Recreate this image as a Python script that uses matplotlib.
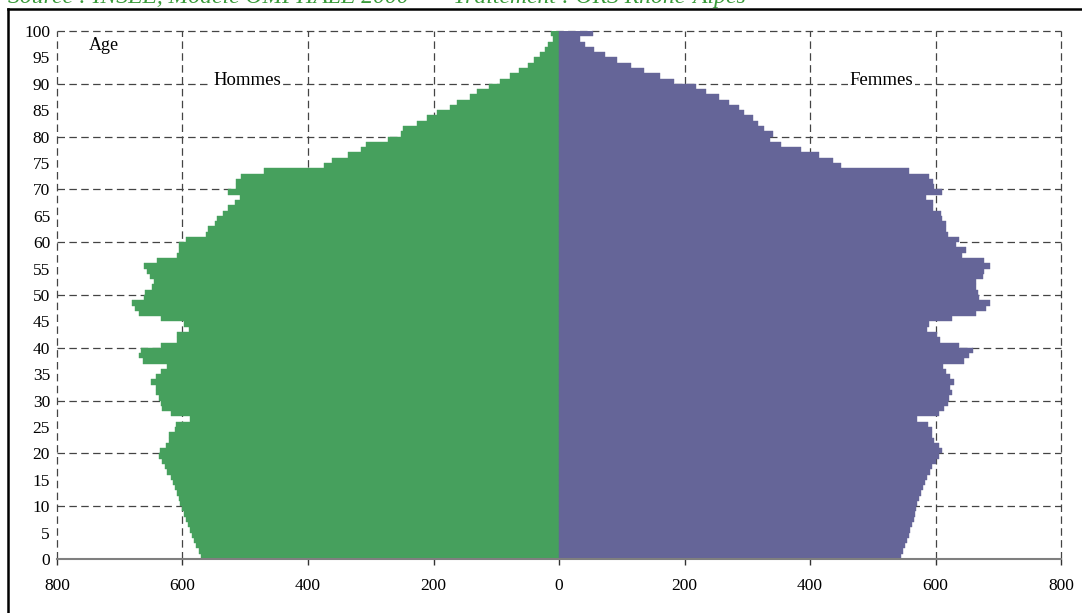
import matplotlib
matplotlib.use("Agg")
import matplotlib.pyplot as plt
from matplotlib.ticker import FuncFormatter
from matplotlib.lines import Line2D
import numpy as np

ages = list(range(0, 100))

hommes = [570, 574, 578, 582, 585, 588, 592, 595, 598, 601,
          604, 606, 609, 612, 615, 619, 624, 628, 632, 637,
          636, 627, 622, 622, 612, 610, 588, 618, 632, 635,
          638, 642, 643, 650, 643, 635, 625, 663, 670, 666,
          635, 609, 608, 590, 597, 635, 669, 676, 680, 661,
          659, 649, 646, 652, 656, 661, 641, 609, 606, 605,
          595, 562, 560, 548, 545, 535, 527, 517, 508, 528,
          514, 514, 506, 470, 374, 361, 337, 315, 307, 272,
          251, 248, 226, 211, 195, 174, 162, 142, 130, 112,
          94, 78, 63, 50, 40, 30, 22, 17, 10, 13]

femmes = [545, 548, 551, 554, 557, 560, 563, 565, 567, 569,
          571, 574, 577, 580, 583, 587, 591, 595, 600, 605,
          610, 605, 598, 594, 595, 588, 570, 606, 613, 620,
          622, 626, 623, 630, 623, 616, 612, 645, 653, 660,
          637, 607, 603, 587, 589, 626, 664, 680, 687, 670,
          667, 665, 664, 676, 678, 687, 678, 643, 649, 633,
          637, 620, 617, 616, 610, 608, 596, 596, 585, 611,
          597, 596, 590, 557, 450, 437, 414, 386, 353, 337,
          341, 327, 317, 309, 295, 287, 271, 255, 235, 218,
          184, 161, 136, 115, 92, 73, 56, 42, 33, 54]

x_ticks = [-800, -600, -400, -200, 0, 200, 400, 600, 800]
y_ticks = list(range(0, 101, 5))
grid_y = list(range(10, 101, 10))

green = "#46A05D"
purple = "#656598"

plt.rcParams['font.family'] = ['Liberation Serif', 'DejaVu Serif']

fig = plt.figure(figsize=(10.82, 6.13), dpi=100)
ax = fig.add_axes([57 / 1082, (613 - 559) / 613, (1061 - 57) / 1082, (559 - 31) / 613])

y = np.array(ages) + 0.5
ax.barh(y, -np.array(hommes), height=1.0, color=green, edgecolor=green, linewidth=0.3, zorder=3)
ax.barh(y, np.array(femmes), height=1.0, color=purple, edgecolor=purple, linewidth=0.3, zorder=3)

dash = (0, (6, 3.5))
for gx in x_ticks:
    if gx != 0:
        ax.axvline(gx, color="#444444", lw=0.9, linestyle=dash, zorder=1, clip_on=False)
for gy in grid_y:
    ax.axhline(gy, color="#444444", lw=0.9, linestyle=dash, zorder=1, clip_on=False)

ax.set_xlim(-800, 800)
ax.set_ylim(0, 100)
ax.set_xticks(x_ticks)
ax.set_yticks(y_ticks)
ax.xaxis.set_major_formatter(FuncFormatter(lambda v, p: f"{abs(int(v))}"))
ax.tick_params(axis='x', direction='out', length=4, width=1, color='#333333', pad=10, labelsize=12.5)
ax.tick_params(axis='y', length=0, pad=5, labelsize=12.5)

for s in ['top', 'right', 'left']:
    ax.spines[s].set_visible(False)
ax.spines['bottom'].set_color('#7f7f7f')
ax.spines['bottom'].set_linewidth(1.5)
ax.spines['bottom'].set_zorder(4)

bbox = dict(facecolor='white', edgecolor='none', pad=1.5)
ax.text(-750, 97.3, "Age", fontsize=13, ha='left', va='center', zorder=5)
ax.text(-497, 90.7, "Hommes", fontsize=13.5, ha='center', va='center', bbox=bbox, zorder=5)
ax.text(514, 90.7, "Femmes", fontsize=13.5, ha='center', va='center', bbox=bbox, zorder=5)

# outer frame (partially visible)
fig.add_artist(Line2D([8 / 1082, 1.0], [1 - 9 / 613, 1 - 9 / 613], transform=fig.transFigure, color='black', lw=1.8))
fig.add_artist(Line2D([8 / 1082, 8 / 1082], [0, 1 - 9 / 613], transform=fig.transFigure, color='black', lw=1.8))

# source line, cut off at the top edge as in the reference
fig.text(8 / 1082, 1 - 2.5 / 613, "Source : INSEE, Modèle OMPHALE 2000  \u2014  Traitement : ORS Rhône-Alpes",
         fontsize=17, style='italic', color='#3a9a3a', ha='left', va='baseline')

fig.savefig("out.png", dpi=100)
